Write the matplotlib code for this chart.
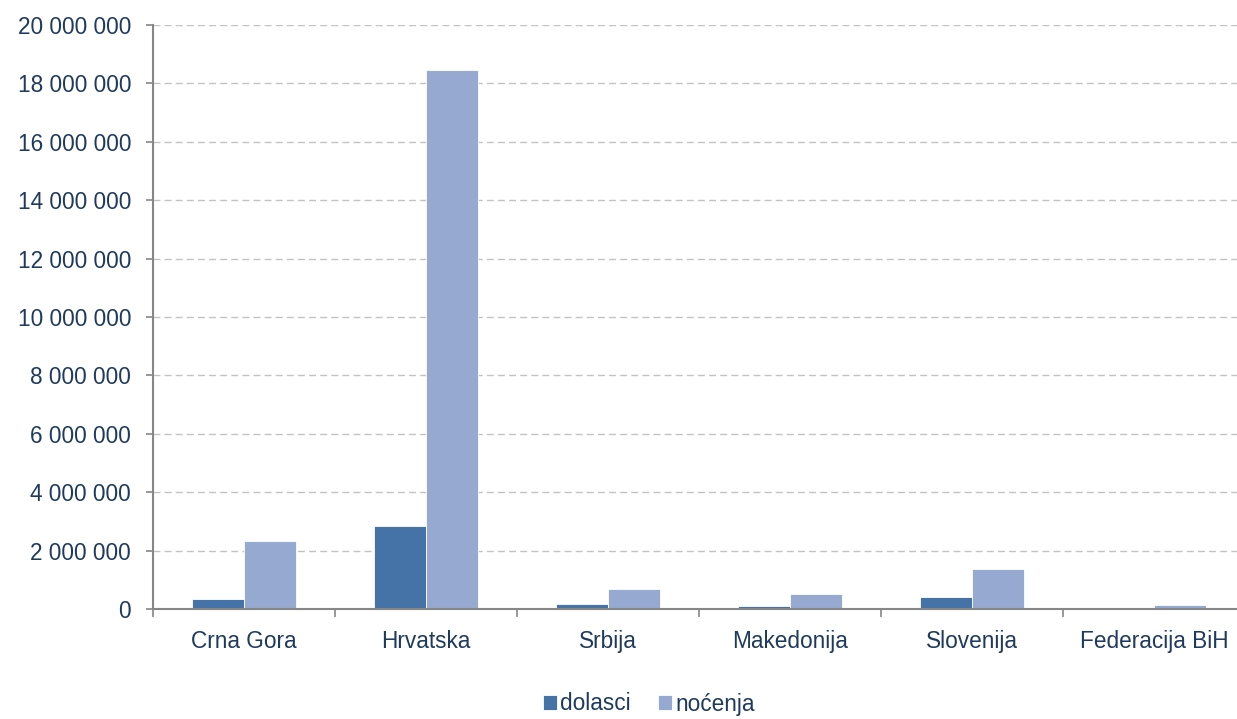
import matplotlib
matplotlib.use("Agg")
import matplotlib.pyplot as plt
import numpy as np
from matplotlib.ticker import FuncFormatter, MultipleLocator, FixedLocator

categories = ["Crna Gora", "Hrvatska", "Srbija", "Makedonija", "Slovenija", "Federacija BiH"]
dolasci = [330000, 2850000, 170000, 100000, 410000, 40000]
nocenja = [2340000, 18470000, 670000, 500000, 1370000, 120000]
series_names = ["dolasci", "noćenja"]

plt.rcParams['font.family'] = ['Liberation Sans', 'DejaVu Sans']
text_color = "#1f3a5f"
axis_color = "#868686"

W, H = 1237, 719
fig = plt.figure(figsize=(W/100, H/100), dpi=100)
left, right = 153/W, 1245/W
bottom, top = 1 - 609/H, 1 - 25/H
ax = fig.add_axes([left, bottom, right-left, top-bottom])

x = np.arange(len(categories))
bw = 0.283
ax.bar(x - bw/2, dolasci, bw, color="#4673a7", edgecolor="white", linewidth=0.6, label=series_names[0], zorder=3)
ax.bar(x + bw/2, nocenja, bw, color="#95a9d1", edgecolor="white", linewidth=0.6, label=series_names[1], zorder=3)

ax.set_xlim(-0.5, len(categories) - 0.5)
ax.set_ylim(0, 20000000)
ax.yaxis.set_major_locator(MultipleLocator(2000000))
ax.yaxis.set_major_formatter(FuncFormatter(lambda v, p: f"{int(v):,}".replace(",", " ")))
ax.yaxis.grid(True, linestyle=(0, (5, 3)), color="#c3c3c3", linewidth=1, zorder=0)

ax.set_xticks(x)
ax.set_xticklabels(categories)
ax.xaxis.set_minor_locator(FixedLocator(np.arange(-0.5, len(categories), 1.0)))
ax.tick_params(axis='x', which='major', length=0, pad=15, labelsize=16.3, labelcolor=text_color)
ax.tick_params(axis='x', which='minor', length=5.8, width=1.2, color=axis_color)
ax.tick_params(axis='y', which='major', length=5, width=1.2, color=axis_color, labelsize=16.3, labelcolor=text_color, pad=10.8)

for s in ["top", "right"]:
    ax.spines[s].set_visible(False)
for s in ["left", "bottom"]:
    ax.spines[s].set_color(axis_color)
    ax.spines[s].set_linewidth(1.5)
ax.spines["bottom"].set_zorder(4)

leg = fig.legend(loc="center", bbox_to_anchor=(649/W, 1 - 704/H), ncol=2, frameon=False,
                 fontsize=16.3, handlelength=0.6, handleheight=0.6, handletextpad=0.15, columnspacing=1.2)
for t in leg.get_texts():
    t.set_color(text_color)

fig.savefig("out.png", dpi=100)
